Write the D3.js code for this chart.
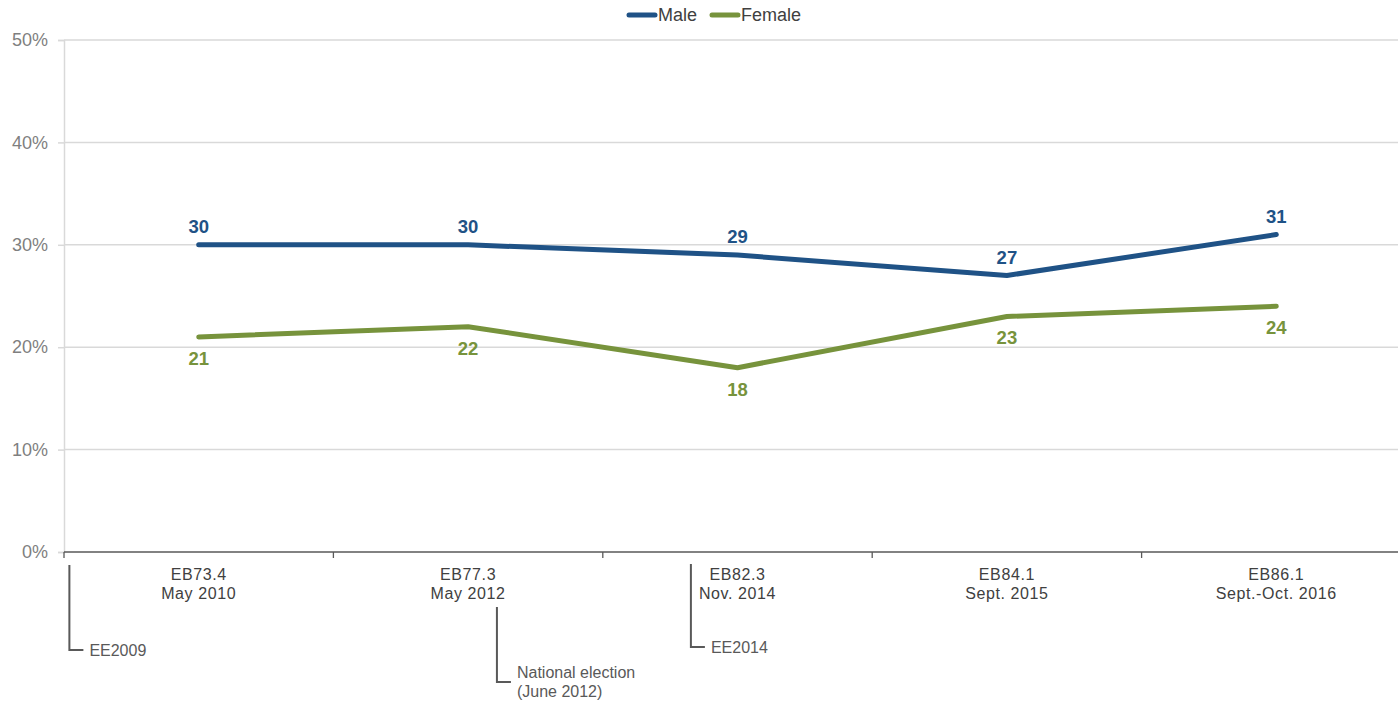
<!DOCTYPE html>
<html><head><meta charset="utf-8">
<script src="https://cdn.jsdelivr.net/npm/d3@7"></script>
<style>body{margin:0;background:#fff;}svg{display:block;font-family:"Liberation Sans",Arial,sans-serif;}</style>
</head><body>
<svg id="c" width="1398" height="701"></svg>
<script>
const categories = ["EB73.4|May 2010","EB77.3|May 2012","EB82.3|Nov. 2014","EB84.1|Sept. 2015","EB86.1|Sept.-Oct. 2016"];
const male = [30,30,29,27,31];
const female = [21,22,18,23,24];
const yTicks = [0,10,20,30,40,50];
const seriesNames = ["Male","Female"];
const colors = ["#1f5286","#77933c"];
const events = [
  {pos:0.02, lines:["EE2009"], y0:565, y1:650},
  {pos:1.607, lines:["National election","(June 2012)"], y0:607, y1:682},
  {pos:2.327, lines:["EE2014"], y0:564, y1:647}
];

(function(){
const svg = d3.select("#c");
const mL=64, mR=1411, mT=40, mB=552;
const x = d3.scaleBand().domain(categories).range([mL,mR]).padding(0);
const y = d3.scaleLinear().domain([0,50]).range([mB,mT]);
const cx = c => x(c)+x.bandwidth()/2;

// gridlines
svg.append("g").selectAll("line").data(yTicks.filter(d=>d>0)).join("line")
  .attr("x1",mL).attr("x2",1398).attr("y1",d=>y(d)).attr("y2",d=>y(d))
  .attr("stroke","#d9d9d9").attr("stroke-width",1.5);
// y axis
const ya = svg.append("g").attr("transform",`translate(${mL},0)`)
  .call(d3.axisLeft(y).tickValues(yTicks).tickFormat(d=>d+"%").tickSize(6).tickPadding(10));
ya.select(".domain").attr("stroke","#d9d9d9").attr("stroke-width",1.5);
ya.selectAll(".tick line").attr("stroke","#d9d9d9").attr("stroke-width",1.5);
ya.selectAll(".tick text").attr("fill","#7f7f7f").style("font-size","18px").style("font-family","Liberation Sans, Arial, sans-serif");

// x axis
svg.append("line").attr("x1",mL).attr("x2",1398).attr("y1",mB).attr("y2",mB).attr("stroke","#595959").attr("stroke-width",1.3);
svg.append("g").selectAll("line").data(categories.slice(1)).join("line")
  .attr("x1",d=>x(d)).attr("x2",d=>x(d)).attr("y1",mB).attr("y2",mB+6).attr("stroke","#595959").attr("stroke-width",1.3);
svg.append("line").attr("x1",mL).attr("x2",mL).attr("y1",mB).attr("y2",mB+6).attr("stroke","#595959").attr("stroke-width",1.3);
const xl = svg.append("g").selectAll("text").data(categories).join("text")
  .attr("x",d=>cx(d)).attr("y",580).attr("text-anchor","middle").attr("fill","#404040")
  .style("font-size","16px").style("letter-spacing","0.6px");
xl.each(function(d){
  const parts=d.split("|");
  d3.select(this).selectAll("tspan").data(parts).join("tspan").attr("x",cx(d)).attr("dy",(p,i)=>i?19:0).text(p=>p);
});

// lines
const line = d3.line().x((d,i)=>cx(categories[i])).y(d=>y(d));
[male,female].forEach((s,k)=>{
  svg.append("path").datum(s).attr("d",line).attr("fill","none").attr("stroke",colors[k])
    .attr("stroke-width",5).attr("stroke-linecap","round").attr("stroke-linejoin","round");
  svg.append("g").selectAll("text").data(s).join("text")
    .attr("x",(d,i)=>cx(categories[i])).attr("y",d=>k===0?y(d)-12:y(d)+28)
    .attr("text-anchor","middle").attr("fill",colors[k]).style("font-size","18.5px").style("font-weight","bold")
    .text(d=>d);
});

// legend
const leg = [{x:627},{x:710}];
seriesNames.forEach((n,k)=>{
  const g=svg.append("g");
  g.append("line").attr("x1",leg[k].x+2).attr("x2",leg[k].x+28).attr("y1",15).attr("y2",15)
    .attr("stroke",colors[k]).attr("stroke-width",5).attr("stroke-linecap","round");
  g.append("text").attr("x",leg[k].x+31).attr("y",21).attr("fill","#404040").style("font-size","18px").text(n);
});

// event annotations
events.forEach(e=>{
  const ex = mL + e.pos*x.bandwidth();
  svg.append("path").attr("d",`M${ex},${e.y0}V${e.y1}H${ex+14}`).attr("fill","none").attr("stroke","#595959").attr("stroke-width",2);
  const n=e.lines.length;
  svg.append("text").attr("x",ex+20).attr("y",e.y1+6-(n-1)*10).attr("fill","#595959").style("font-size","16px")
    .selectAll("tspan").data(e.lines).join("tspan").attr("x",ex+20).attr("dy",(p,i)=>i?19:0).text(p=>p);
});
})();
</script>
</body></html>
